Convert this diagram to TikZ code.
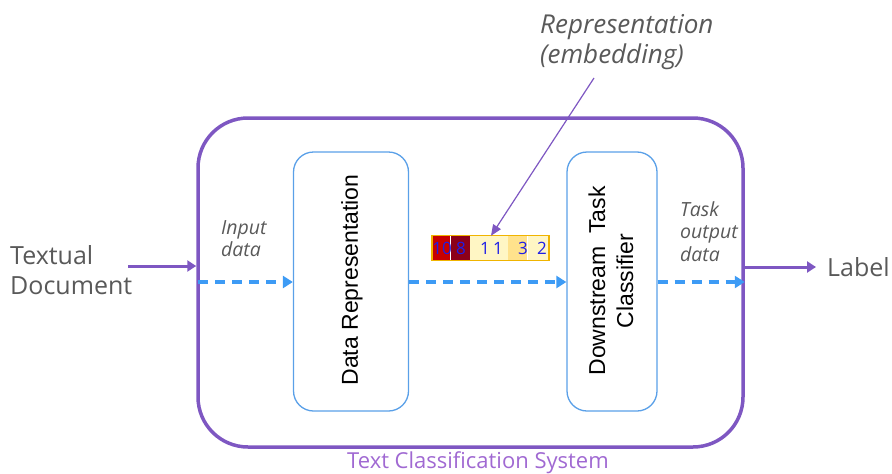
\documentclass[tikz,border=0pt]{standalone}
\usepackage{fontspec}
\setmainfont{Open Sans}
\newfontfamily\arialf{Liberation Sans}
\usetikzlibrary{arrows.meta}

\definecolor{sysviolet}{RGB}{126,87,194}
\definecolor{syslabel}{RGB}{160,105,210}
\definecolor{flowblue}{RGB}{61,155,245}
\definecolor{boxblue}{RGB}{90,160,232}
\definecolor{txtgrey}{RGB}{89,89,89}
\definecolor{cellred}{RGB}{200,0,0}
\definecolor{celldark}{RGB}{140,0,25}
\definecolor{celllight}{RGB}{255,246,196}
\definecolor{cellmid}{RGB}{255,226,140}
\definecolor{cellrim}{RGB}{240,180,0}
\definecolor{digitblue}{RGB}{30,30,230}

\tikzset{
  sysbox/.style={draw=sysviolet, line width=3.5pt, rounded corners=50pt,
    minimum width=545pt, minimum height=329pt, inner sep=0pt},
  stagebox/.style={draw=boxblue, line width=1.3pt, rounded corners=20pt,
    minimum height=259pt, inner sep=0pt, fill=white},
  stagetext/.style={font=\arialf\fontsize{23}{28}\selectfont, rotate=90,
    align=center, inner sep=0pt},
  greytext/.style={text=txtgrey, font=\fontsize{25}{30}\selectfont,
    align=left, inner sep=0pt},
  notetext/.style={text=txtgrey, font=\itshape\fontsize{19.5}{22.5}\selectfont,
    align=left, inner sep=0pt},
  solidflow/.style={draw=sysviolet, line width=3pt,
    -{Triangle[length=9pt,width=11pt]}},
  dashflow/.style={draw=flowblue, line width=3.5pt, dash pattern=on 10pt off 7pt,
    -{Triangle[length=10pt,width=12pt]}},
  cell/.style={minimum height=24pt, inner sep=0pt, anchor=west},
  digit/.style={font=\fontsize{17}{17}\selectfont, text=digitblue, inner sep=0pt},
}

\begin{document}
\begin{tikzpicture}[x=1pt,y=-1pt]
\useasboundingbox (0,0) rectangle (892,474);

% the system frame and its two stages
\node[sysbox] (sys) at (470.5,282.5) {};
\node[text=syslabel, font=\fontsize{22}{22}\selectfont, inner sep=0pt]
  (syslbl) at (478,463) {Text Classification System};
\node[stagebox, minimum width=115pt] (dr) at (351,281.5) {};
\node[stagebox, minimum width=90pt] (ds) at (612,281.5) {};
\node[stagetext] (drtxt) at (352,280) {Data Representation};
\node[stagetext] (dstxt) at (611,281) {Downstream\ \ Task\\Classifier};

% outside input and output
\node[greytext, anchor=west] (doc) at (10,270) {Textual\\Document};
\node[greytext, anchor=west] (lbl) at (827,267) {Label};
\coordinate (docin) at (128,266);
\coordinate (labout) at (743,267);
\draw[solidflow] (docin) -- (docin -| sys.west);
\draw[solidflow] (labout) -- ([xshift=-11pt]lbl.west);

% notes on the data flow
\node[notetext, anchor=north west] (innote) at (221,220) {Input\\data};
\node[notetext, anchor=north west] (outnote) at (680,201) {Task\\output\\data};

% dashed flow through the stages
\coordinate (flowin) at (198,282);
\draw[dashflow] (flowin) -- (flowin -| dr.west);
\draw[dashflow] (dr.east |- flowin) -- (flowin -| ds.west);
\draw[dashflow] (ds.east |- flowin) -- (flowin -| sys.east);

% embedding vector
\node[cell, fill=cellred, minimum width=18pt] (c1) at (432,248) {};
\node[cell, fill=celldark, minimum width=19pt] (c2) at (c1.east) {};
\node[cell, fill=celllight, minimum width=38pt] (c3) at (c2.east) {};
\node[cell, fill=cellmid, minimum width=19pt] (c4) at (c3.east) {};
\node[cell, fill=celllight, minimum width=21pt] (c5) at (c4.east) {};
\draw[cellrim, line width=1.3pt] (c1.north west) rectangle (c5.south east);
\node[digit] (d1) at (442,248) {10};
\node[digit] (d2) at (461,248) {8};
\node[digit] (d3) at (485,248) {1};
\node[digit] (d4) at (498,248) {1};
\node[digit] (d5) at (523,248) {3};
\node[digit] (d6) at (542,248) {2};

% embedding callout
\node[text=txtgrey, font=\itshape\fontsize{26}{30}\selectfont, align=left,
  inner sep=0pt, anchor=north west] (emb) at (540,14) {Representation\\(embedding)};
\coordinate (embtail) at (594,78);
\draw[sysviolet, line width=1.2pt, -{Triangle[length=11pt,width=9pt]}]
  (embtail) -- ([xshift=2pt]c3.north);
\end{tikzpicture}
\end{document}
